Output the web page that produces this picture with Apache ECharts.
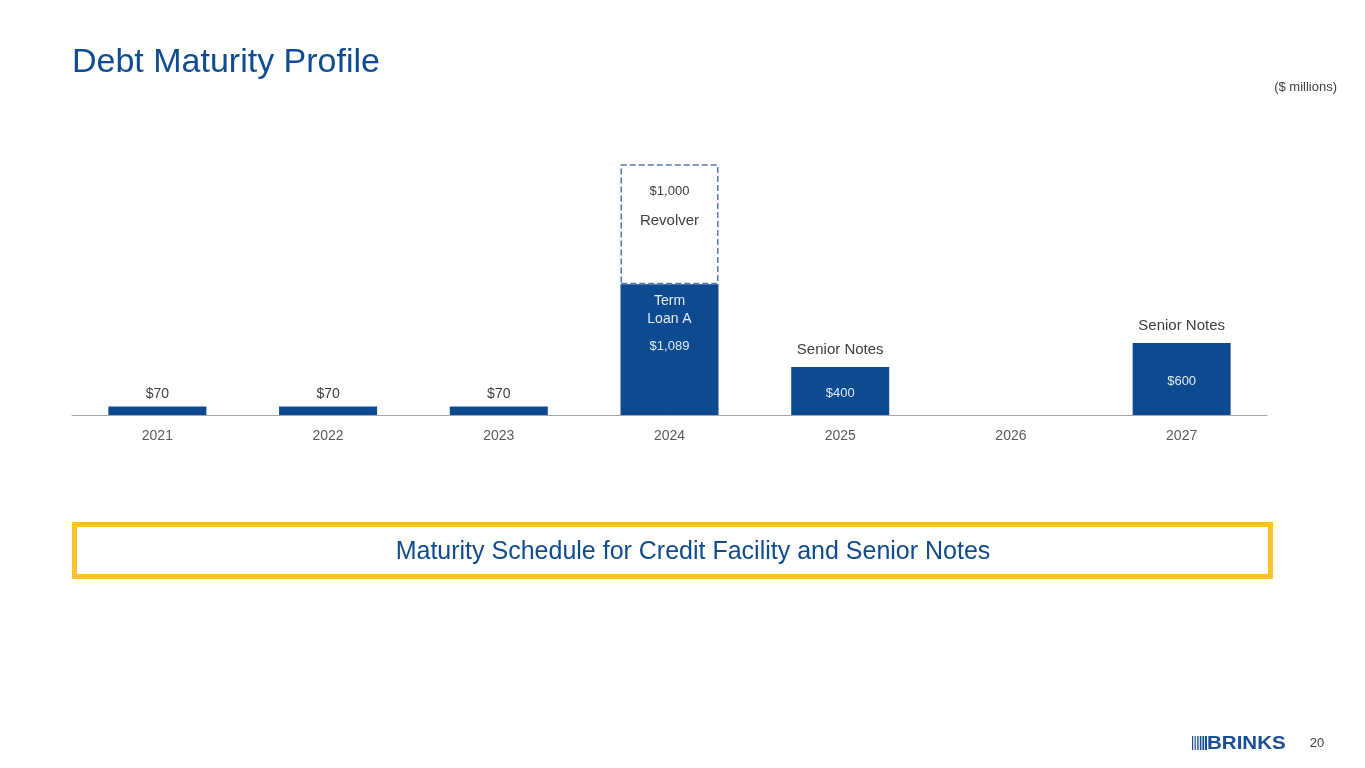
<!DOCTYPE html>
<html>
<head>
<meta charset="utf-8">
<title>Debt Maturity Profile</title>
<script src="https://cdn.jsdelivr.net/npm/echarts@6/dist/echarts.min.js"></script>
<style>
  html, body { margin: 0; padding: 0; background: #fff; }
  #main { width: 1365px; height: 768px; }
</style>
</head>
<body>
<div id="main"></div>
<script>
// data
var years = ['2021', '2022', '2023', '2024', '2025', '2026', '2027'];
var termValues = [70, 70, 70, 1089, 400, 0, 600];
var revolverValues = [null, null, null, 1000, null, null, null];
var noteNames = ['', '', '', '', 'Senior Notes', '', 'Senior Notes'];

var blue = '#0d4a8f';
var textGray = '#404040';

var chart = echarts.init(document.getElementById('main'));

var fmt = function (v) {
  return '$' + v.toLocaleString('en-US');
};

// main bars
var termData = termValues.map(function (v, i) {
  var item = { value: v };
  if (v === 0) {
    item.label = { show: false };
  } else if (i === 3) {
    item.label = {
      position: 'insideTop',
      distance: 8,
      formatter: '{a|Term}\n{a|Loan A}\n{b|' + fmt(v) + '}',
      rich: {
        a: { color: '#e4edf9', fontSize: 14, lineHeight: 18, fontFamily: 'Liberation Sans' },
        b: { color: '#e4edf9', fontSize: 13, lineHeight: 36, fontFamily: 'Liberation Sans' }
      }
    };
  } else if (v >= 300) {
    item.label = { position: 'inside', offset: [0, 2], color: '#e4edf9', fontSize: 13 };
  }
  return item;
});

var revolverData = revolverValues.map(function (v) {
  if (v == null) return null;
  return {
    value: v,
    label: {
      show: true,
      position: 'insideTop',
      distance: 12,
      formatter: '{a|' + fmt(v) + '}\n{b|Revolver}',
      rich: {
        a: { color: textGray, fontSize: 13, lineHeight: 30, fontFamily: 'Liberation Sans' },
        b: { color: textGray, fontSize: 15, lineHeight: 30, fontFamily: 'Liberation Sans' }
      }
    }
  };
});

var option = {
  backgroundColor: '#ffffff',
  animation: false,
  grid: { left: 72, right: 98, top: 115, height: 300 },
  xAxis: {
    type: 'category',
    data: years,
    axisLine: { lineStyle: { color: '#a6a6a6', width: 1 } },
    axisTick: { show: false },
    axisLabel: { color: '#595959', fontSize: 14, margin: 14, fontFamily: 'Liberation Sans' }
  },
  yAxis: {
    type: 'value',
    min: 0,
    max: 2500,
    show: false,
    splitLine: { show: false }
  },
  series: [
    {
      name: 'Term',
      type: 'bar',
      stack: 'debt',
      barWidth: 98,
      data: termData,
      itemStyle: { color: blue },
      label: {
        show: true,
        position: 'top',
        distance: 5,
        color: textGray,
        fontSize: 14,
        fontFamily: 'Liberation Sans',
        formatter: function (p) { return fmt(p.value); }
      }
    },
    {
      name: 'Revolver',
      type: 'bar',
      stack: 'debt',
      barWidth: 98,
      data: revolverData,
      itemStyle: {
        color: '#ffffff',
        borderColor: '#5577b3',
        borderWidth: 1.5,
        borderType: [6, 3]
      }
    },
    {
      name: 'Notes',
      type: 'bar',
      barWidth: 98,
      barGap: '-100%',
      silent: true,
      z: 1,
      data: termValues,
      itemStyle: { color: 'rgba(0,0,0,0)' },
      label: {
        show: true,
        position: 'top',
        distance: 10,
        color: textGray,
        fontSize: 15,
        fontFamily: 'Liberation Sans',
        formatter: function (p) { return noteNames[p.dataIndex]; }
      }
    }
  ],
  graphic: [
    {
      type: 'text', left: 72, top: 46,
      style: { text: 'Debt Maturity Profile', fill: '#0f4c8f', fontSize: 34, fontFamily: 'Liberation Sans' }
    },
    {
      type: 'text', right: 28, top: 81,
      style: { text: '($ millions)', fill: textGray, fontSize: 13, fontFamily: 'Liberation Sans' }
    },
    {
      type: 'rect', shape: { x: 74.5, y: 524.5, width: 1196, height: 52 },
      style: { fill: '#fff', stroke: '#fcc12d', lineWidth: 5 }
    },
    {
      type: 'text', x: 693, y: 552,
      style: {
        text: 'Maturity Schedule for Credit Facility and Senior Notes',
        fill: '#0f4c8f', fontSize: 25, fontFamily: 'Liberation Sans',
        align: 'center', verticalAlign: 'middle'
      }
    },
    // logo
    { type: 'rect', shape: { x: 1192, y: 736, width: 1.2, height: 14 }, style: { fill: '#1a4f96' } },
    { type: 'rect', shape: { x: 1194.6, y: 736, width: 1.2, height: 14 }, style: { fill: '#1a4f96' } },
    { type: 'rect', shape: { x: 1197.2, y: 736, width: 1.4, height: 14 }, style: { fill: '#1a4f96' } },
    { type: 'rect', shape: { x: 1199.8, y: 736, width: 1.6, height: 14 }, style: { fill: '#1a4f96' } },
    { type: 'rect', shape: { x: 1202.4, y: 736, width: 1.8, height: 14 }, style: { fill: '#1a4f96' } },
    { type: 'rect', shape: { x: 1205, y: 736, width: 2, height: 14 }, style: { fill: '#1a4f96' } },
    {
      type: 'text', x: 1207, y: 743.5,
      scaleX: 1.08,
      style: {
        text: 'BRINKS', fill: '#1a4f96', fontSize: 19, fontWeight: 900,
        fontFamily: 'Liberation Sans', verticalAlign: 'middle'
      }
    },
    {
      type: 'text', x: 1317, y: 743,
      style: { text: '20', fill: textGray, fontSize: 13, fontFamily: 'Liberation Sans', align: 'center', verticalAlign: 'middle' }
    }
  ]
};

chart.setOption(option);
</script>
</body>
</html>
